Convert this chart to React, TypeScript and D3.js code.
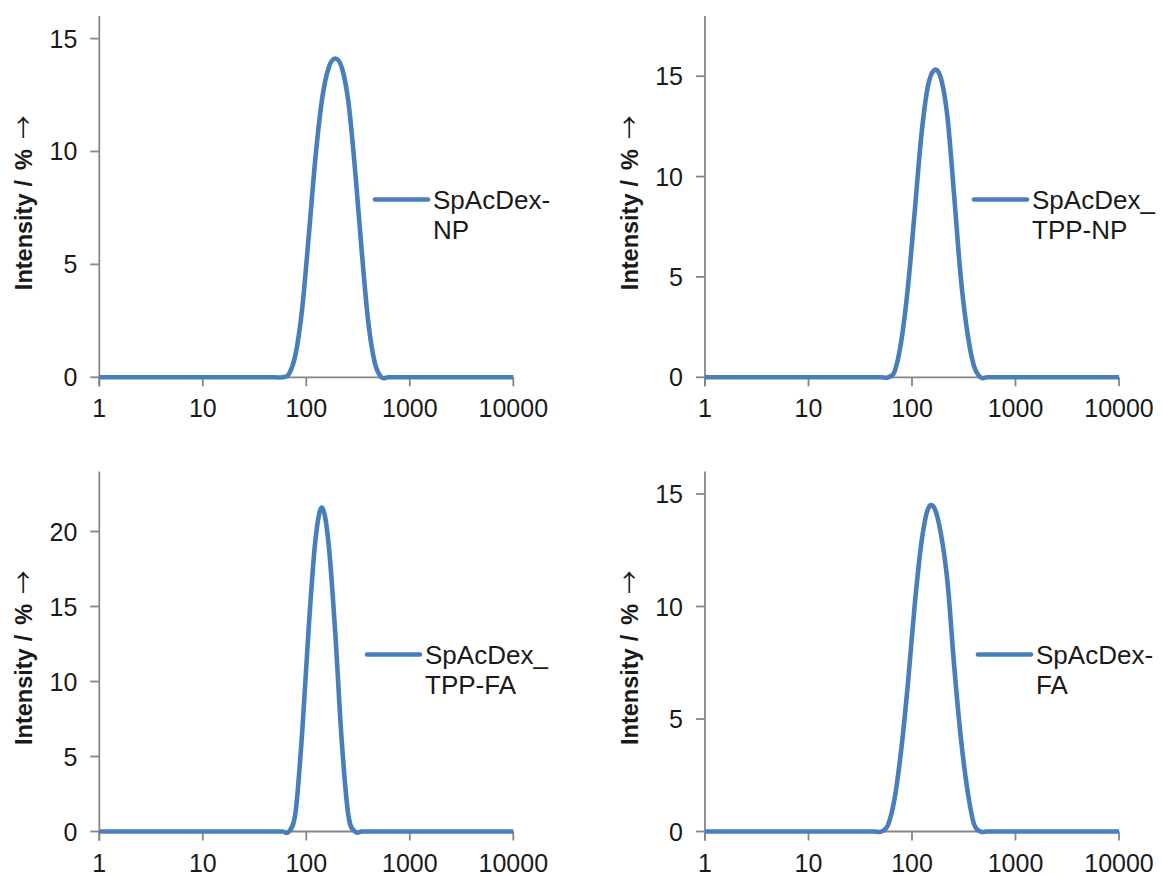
import React from "react";
import * as d3 from "d3";

// Hydrodynamic size bins (nm)
const sizes = [
  0.4, 0.4632, 0.5365, 0.6213, 0.7195, 0.8332, 0.9649, 1.117, 1.294, 1.499,
  1.736, 2.01, 2.328, 2.696, 3.122, 3.615, 4.187, 4.849, 5.615, 6.503,
  7.531, 8.721, 10.1, 11.7, 13.54, 15.69, 18.17, 21.04, 24.36, 28.21,
  32.67, 37.84, 43.82, 50.75, 58.77, 68.06, 78.82, 91.28, 105.7, 122.4,
  141.8, 164.2, 190.1, 220.2, 255.0, 295.3, 342.0, 396.1, 458.7, 531.2,
  615.1, 712.4, 825.0, 955.4, 1106, 1281, 1484, 1718, 1990, 2305,
  2669, 3091, 3580, 4145, 4801, 5560, 6439, 7456, 8635, 10000,
];

// Intensity (%) per bin
const intensityNP = [
  0, 0, 0, 0, 0, 0, 0, 0, 0, 0,
  0, 0, 0, 0, 0, 0, 0, 0, 0, 0,
  0, 0, 0, 0, 0, 0, 0, 0, 0, 0,
  0, 0, 0, 0, 0, 0.15, 1.03, 3.05, 6.28, 9.7,
  12.3, 13.7, 14.12, 13.72, 12.2, 9.24, 5.67, 2.48, 0.65, 0,
  0, 0, 0, 0, 0, 0, 0, 0, 0, 0,
  0, 0, 0, 0, 0, 0, 0, 0, 0, 0,
];
const intensityTPPNP = [
  0, 0, 0, 0, 0, 0, 0, 0, 0, 0,
  0, 0, 0, 0, 0, 0, 0, 0, 0, 0,
  0, 0, 0, 0, 0, 0, 0, 0, 0, 0,
  0, 0, 0, 0, 0, 0.3, 1.81, 4.48, 8.12, 11.91,
  14.45, 15.3, 14.9, 12.95, 9.1, 5.03, 2.26, 0.58, 0, 0,
  0, 0, 0, 0, 0, 0, 0, 0, 0, 0,
  0, 0, 0, 0, 0, 0, 0, 0, 0, 0,
];
const intensityTPPFA = [
  0, 0, 0, 0, 0, 0, 0, 0, 0, 0,
  0, 0, 0, 0, 0, 0, 0, 0, 0, 0,
  0, 0, 0, 0, 0, 0, 0, 0, 0, 0,
  0, 0, 0, 0, 0, 0, 1.32, 6.63, 13.68, 19.4,
  21.6, 19.19, 13.32, 5.99, 1.07, 0, 0, 0, 0, 0,
  0, 0, 0, 0, 0, 0, 0, 0, 0, 0,
  0, 0, 0, 0, 0, 0, 0, 0, 0, 0,
];
const intensityFA = [
  0, 0, 0, 0, 0, 0, 0, 0, 0, 0,
  0, 0, 0, 0, 0, 0, 0, 0, 0, 0,
  0, 0, 0, 0, 0, 0, 0, 0, 0, 0,
  0, 0, 0, 0, 0.3, 1.49, 3.67, 6.57, 9.96, 12.73,
  14.3, 14.38, 13.24, 11.1, 7.41, 4.23, 1.89, 0.35, 0, 0,
  0, 0, 0, 0, 0, 0, 0, 0, 0, 0,
  0, 0, 0, 0, 0, 0, 0, 0, 0, 0,
];

const xTicks = [1, 10, 100, 1000, 10000];
const yTicks16 = [0, 5, 10, 15];
const yTicks18 = [0, 5, 10, 15];
const yTicks24 = [0, 5, 10, 15, 20];

const legendNP = ["SpAcDex-", "NP"];
const legendTPPNP = ["SpAcDex_", "TPP-NP"];
const legendTPPFA = ["SpAcDex_", "TPP-FA"];
const legendFA = ["SpAcDex-", "FA"];

const yLabelParts = ["Intensity", "/", "%", "\u2192"];

const BLUE = "#4A7EBB";
const AXIS = "#868686";
const TEXT = "#1a1a1a";
const FONT = "'Liberation Sans', Arial, sans-serif";

type PanelSpec = {
  id: string;
  values: number[];
  legend: string[];
  yMax: number;
  yTicks: number[];
  left: number;
  right: number;
  top: number;
  bottom: number;
  legendX: number;
  legendY: number;
};

const panels: PanelSpec[] = [
  { id: "p1", values: intensityNP, legend: legendNP, yMax: 16, yTicks: yTicks16,
    left: 99.3, right: 513.3, top: 16, bottom: 377.3, legendX: 375, legendY: 199.5 },
  { id: "p2", values: intensityTPPNP, legend: legendTPPNP, yMax: 18, yTicks: yTicks18,
    left: 705, right: 1119, top: 16, bottom: 377.3, legendX: 974, legendY: 199.5 },
  { id: "p3", values: intensityTPPFA, legend: legendTPPFA, yMax: 24, yTicks: yTicks24,
    left: 99.3, right: 513.3, top: 471.5, bottom: 831.5, legendX: 367, legendY: 654.5 },
  { id: "p4", values: intensityFA, legend: legendFA, yMax: 16, yTicks: yTicks16,
    left: 705, right: 1119, top: 471.5, bottom: 831.5, legendX: 978, legendY: 654.5 },
];

function Panel({ p }: { p: PanelSpec }) {
  const x = d3.scaleLog().domain([1, 10000]).range([p.left, p.right]);
  const y = d3.scaleLinear().domain([0, p.yMax]).range([p.bottom, p.top]);
  const pts = sizes.map((s, i) => [s, p.values[i]] as [number, number]);
  const line = d3
    .line<[number, number]>()
    .x((d) => x(d[0]))
    .y((d) => y(d[1]))
    .curve(d3.curveCatmullRom.alpha(0));
  const path = line(pts) || "";
  const clipId = "clip-" + p.id;
  const midY = (p.top + p.bottom) / 2;
  return (
    <g>
      <defs>
        <clipPath id={clipId}>
          <rect x={p.left} y={p.top - 20} width={p.right - p.left + 1} height={p.bottom - p.top + 30} />
        </clipPath>
      </defs>
      {/* y axis */}
      <line x1={p.left} x2={p.left} y1={p.top} y2={p.bottom + 9} stroke={AXIS} strokeWidth={1.8} />
      {p.yTicks.map((t) => (
        <g key={"y" + t}>
          <line x1={p.left - 9} x2={p.left} y1={y(t)} y2={y(t)} stroke={AXIS} strokeWidth={1.8} />
          <text x={p.left - 22} y={y(t) + 9} textAnchor="end" fontSize={25} fontFamily={FONT} fill={TEXT}>
            {t}
          </text>
        </g>
      ))}
      {/* x axis */}
      <line x1={p.left} x2={p.right} y1={p.bottom} y2={p.bottom} stroke={AXIS} strokeWidth={1.8} />
      {xTicks.map((t) => (
        <g key={"x" + t}>
          <line x1={x(t)} x2={x(t)} y1={p.bottom} y2={p.bottom + 9} stroke={AXIS} strokeWidth={1.8} />
          <text x={x(t)} y={p.bottom + 40} textAnchor="middle" fontSize={25} fontFamily={FONT} fill={TEXT}>
            {t}
          </text>
        </g>
      ))}
      {/* y label */}
      <text
        transform={`translate(${p.left - 67.5},${midY + 93.5}) rotate(-90)`}
        textAnchor="start"
        fontSize={23.5}
        fontWeight="bold"
        fontFamily={FONT}
        fill={TEXT}
      >
        <tspan>{yLabelParts[0]}</tspan>
        <tspan dx={7}>{yLabelParts[1]}</tspan>
        <tspan dx={10}>{yLabelParts[2]}</tspan>
        <tspan dx={10} fontFamily="'Noto Sans CJK JP', 'DejaVu Sans', sans-serif" fontWeight="normal">
          {yLabelParts[3]}
        </tspan>
      </text>
      {/* data */}
      <path
        d={path}
        fill="none"
        stroke={BLUE}
        strokeWidth={4.6}
        strokeLinejoin="round"
        clipPath={`url(#${clipId})`}
      />
      {/* legend */}
      <line
        x1={p.legendX}
        x2={p.legendX + 53}
        y1={p.legendY}
        y2={p.legendY}
        stroke={BLUE}
        strokeWidth={4.6}
        strokeLinecap="round"
      />
      {p.legend.map((s, i) => (
        <text
          key={s + i}
          x={p.legendX + 58}
          y={p.legendY + 9.5 + i * 29.5}
          fontSize={26}
          fontFamily={FONT}
          fill={TEXT}
        >
          {s}
        </text>
      ))}
    </g>
  );
}

export default function App() {
  return (
    <svg
      width={1162}
      height={875}
      viewBox="0 0 1162 875"
      style={{ position: "absolute", left: 0, top: 0, background: "#fff" }}
    >
      <rect x={0} y={0} width={1162} height={875} fill="#fff" />
      {panels.map((p) => (
        <Panel key={p.id} p={p} />
      ))}
    </svg>
  );
}
